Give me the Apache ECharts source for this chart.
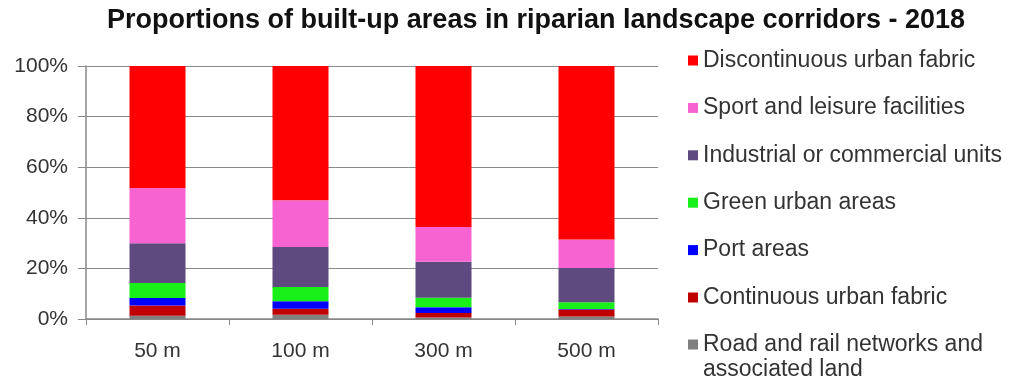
<!DOCTYPE html>
<html>
<head>
<meta charset="utf-8">
<script src="https://cdn.jsdelivr.net/npm/echarts@6/dist/echarts.min.js"></script>
<style>
  html, body { margin: 0; padding: 0; background: #ffffff; }
  #chart { width: 1012px; height: 383px; }
</style>
</head>
<body>
<div id="chart"></div>
<script>
// Corridor widths
const categories = ['50 m', '100 m', '300 m', '500 m'];

// Share of built-up area (%) per land-use class, bottom of the stack first
const roadRail      = [1.3, 1.7, 0.6, 1.0];
const continuous    = [4.0, 2.4, 1.8, 2.8];
const portAreas     = [3.0, 2.9, 2.2, 0.2];
const greenUrban    = [5.9, 5.6, 3.8, 2.6];
const industrial    = [15.7, 15.9, 14.2, 13.6];
const sportLeisure  = [21.9, 18.4, 13.8, 11.2];
const discontinuous = [48.2, 53.1, 63.6, 68.6];

const yTicks = [0, 20, 40, 60, 80, 100];

const FONT = '"Liberation Sans", Arial, sans-serif';

const classes = [
  { name: 'Road and rail networks and\nassociated land', data: roadRail,      color: '#808080' },
  { name: 'Continuous urban fabric',                      data: continuous,    color: '#C00000' },
  { name: 'Port areas',                                   data: portAreas,     color: '#0000FF' },
  { name: 'Green urban areas',                            data: greenUrban,    color: '#19F019' },
  { name: 'Industrial or commercial units',               data: industrial,    color: '#5E4A7E' },
  { name: 'Sport and leisure facilities',                 data: sportLeisure,  color: '#F763D0' },
  { name: 'Discontinuous urban fabric',                   data: discontinuous, color: '#FF0000' }
];

const series = classes.map(c => ({
  name: c.name,
  type: 'bar',
  stack: 'total',
  barWidth: 56,
  data: c.data,
  itemStyle: { color: c.color },
  emphasis: { disabled: true }
}));

const legendText = { fontFamily: FONT, fontSize: 23, color: '#333333', lineHeight: 25 };
const topSix = classes.slice(1).reverse().map(c => c.name);
const last = classes[0].name;

// Square marker sitting at the top of a tall, otherwise empty box, so it lines up
// with the first line of a two-line legend label.
const topSquare = 'path://M0,0L10,0L10,10L0,10Z M0,35L10,35';

const chart = echarts.init(document.getElementById('chart'), null, { renderer: 'canvas' });
chart.setOption({
  animation: false,
  backgroundColor: '#ffffff',
  title: {
    text: 'Proportions of built-up areas in riparian landscape corridors - 2018',
    left: 531,
    textAlign: 'center',
    top: 2,
    textStyle: { fontFamily: FONT, fontSize: 27, fontWeight: 'bold', color: '#111111' }
  },
  legend: [
    {
      orient: 'vertical',
      left: 683,
      top: 43,
      itemWidth: 10,
      itemHeight: 10,
      itemGap: 22.4,
      icon: 'rect',
      data: topSix,
      textStyle: legendText,
      selectedMode: false
    },
    {
      orient: 'vertical',
      left: 683,
      top: 327,
      itemWidth: 10,
      itemHeight: 35,
      icon: topSquare,
      itemStyle: { borderWidth: 0 },
      data: [last],
      textStyle: legendText,
      selectedMode: false
    }
  ],
  grid: { left: 86, top: 66, width: 572, height: 253, containLabel: false },
  xAxis: {
    type: 'category',
    data: categories,
    axisLine: { lineStyle: { color: '#888888', width: 1.5 } },
    axisTick: { show: true, length: 6, lineStyle: { color: '#888888' } },
    axisLabel: { fontFamily: FONT, fontSize: 21, color: '#333333', margin: 22 }
  },
  yAxis: {
    type: 'value',
    min: yTicks[0],
    max: yTicks[yTicks.length - 1],
    interval: yTicks[1] - yTicks[0],
    axisLine: { show: true, lineStyle: { color: '#888888', width: 1.5 } },
    axisTick: { show: true, length: 8, lineStyle: { color: '#888888' } },
    axisLabel: { fontFamily: FONT, fontSize: 21, color: '#333333', margin: 18, formatter: '{value}%' },
    splitLine: { show: true, lineStyle: { color: '#8a8a8a', width: 1.2 } }
  },
  series: series
});
</script>
</body>
</html>
